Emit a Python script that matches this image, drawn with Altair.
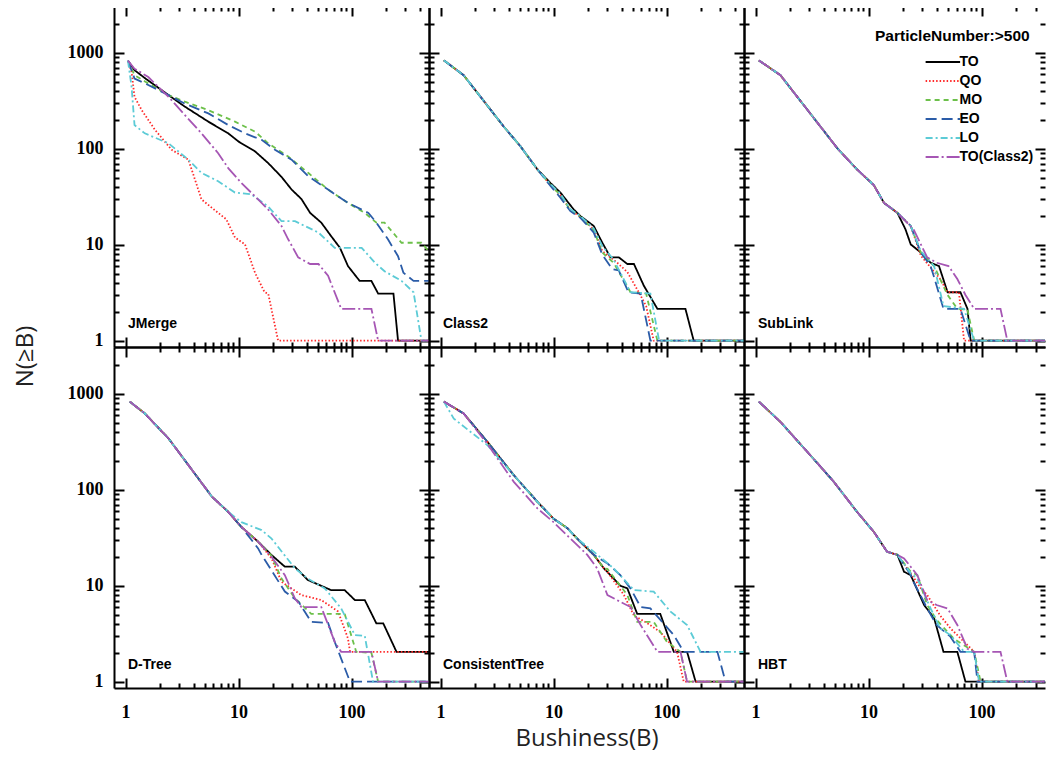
import altair as alt
import pandas as pd

PANELS = ["JMerge", "Class2", "SubLink", "D-Tree", "ConsistentTree", "HBT"]
SERIES = ["TO", "QO", "MO", "EO", "LO", "TO(Class2)"]
COLORS = ["#000000", "#ff2a2a", "#6cc04a", "#2b5ca8", "#5ccbd6", "#a656b4"]
DASHES = [[1, 0], [1.5, 2], [5, 4], [11, 5], [7, 3, 2, 3], [13, 3, 2, 3]]

X_TICKS = [1, 2, 3, 4, 5, 6, 7, 8, 9, 10, 20, 30, 40, 50, 60, 70, 80, 90, 100, 200, 300, 400]
Y_TICKS = [1, 2, 3, 4, 5, 6, 7, 8, 9, 10, 20, 30, 40, 50, 60, 70, 80, 90,
           100, 200, 300, 400, 500, 600, 700, 800, 900, 1000, 2000]

# ---------------- JMerge ----------------
jm_TO_B = [1.05, 1.2, 1.5, 2.4, 3.35, 5.4, 8.1, 10, 14, 18.3, 24, 29.5, 36, 43, 54, 66, 79, 93, 118, 150, 172, 235, 258, 485]
jm_TO_N = [830, 660, 540, 363, 275, 192, 145, 119, 94, 71, 51, 37.6, 30, 21.5, 17, 12.3, 9.3, 6, 4.2, 4.2, 3.1, 3.1, 1, 1]
jm_QO_B = [1.05, 1.13, 1.2, 1.39, 1.82, 2.55, 3.6, 4.7, 6.6, 7.8, 9.3, 11.4, 14, 17, 18.3, 22.4, 485]
jm_QO_N = [830, 635, 348, 253, 158, 98, 77, 29.7, 21.5, 18.4, 11.9, 10.1, 5.1, 3.2, 3.1, 1, 1]
jm_MO_B = [1.05, 1.2, 1.5, 2.4, 3.35, 5.4, 9.3, 14, 18.3, 27.5, 41.5, 62, 93, 131, 166, 196, 277, 416, 485]
jm_MO_N = [830, 585, 500, 363, 310, 253, 192, 151, 114, 83, 56, 37.6, 27.3, 21.5, 17, 17, 10.5, 10.5, 8.5]
jm_EO_B = [1.05, 1.2, 1.5, 2.4, 3.35, 5.4, 8.1, 11.4, 16, 21, 29.5, 41.5, 62, 93, 141, 166, 210, 258, 288, 354, 485]
jm_EO_N = [830, 540, 478, 363, 296, 234, 177, 145, 124, 98, 77, 51.6, 37.6, 27.3, 21.5, 17, 11.4, 7.6, 5.1, 4.2, 4.2]
jm_LO_B = [1.05, 1.13, 1.2, 1.48, 2.4, 3.6, 4.7, 6.6, 9.3, 13, 18.3, 24, 31.6, 51, 71, 123, 161, 196, 277, 354, 416, 485]
jm_LO_N = [830, 445, 177, 145, 114, 77, 56, 46, 35, 33.5, 25, 17.6, 17.6, 13.4, 9.3, 9.3, 6.5, 5.3, 4.2, 3.2, 1, 1]
jm_TC_B = [1.05, 1.2, 1.59, 2.4, 3.35, 4.7, 6.6, 8.1, 10.6, 14.9, 18.3, 24, 27.5, 33.7, 43, 51, 62, 81, 150, 172, 485]
jm_TC_N = [830, 684, 560, 348, 225, 145, 90, 63, 44, 29.7, 23.3, 15.7, 11.4, 7.4, 6.3, 6.3, 4.75, 2.15, 2.15, 1, 1]

# ---------------- Class2 ----------------
c2_common_B = [1.07, 1.6, 2.26, 3.63, 5.1, 7.2]
c2_common_N = [835, 585, 348, 170, 106, 61]
c2_TO_B = c2_common_B + [9.4, 11.5, 15.1, 17.3, 22.7, 27, 31.9, 37.8, 45, 51.5, 63, 83, 147, 174, 485]
c2_TO_N = c2_common_N + [44, 35, 23.3, 19.9, 15.7, 10.5, 7.4, 7.4, 6.3, 6.3, 3.74, 2.15, 2.15, 1, 1]
c2_QO_B = c2_common_B + [9.4, 11.5, 14.1, 17.3, 22.7, 27, 36.6, 45, 59, 66, 77, 485]
c2_QO_N = c2_common_N + [42, 33, 23, 19.5, 14.5, 8.6, 6.5, 5.2, 2.95, 2.3, 1, 1]
c2_MO_B = c2_common_B + [9.4, 11.5, 14.1, 17.3, 22.7, 27, 34, 48, 66, 83, 485]
c2_MO_N = c2_common_N + [42, 33, 23, 19.5, 14.2, 8.3, 6.5, 3.2, 3.1, 1, 1]
c2_EO_B = c2_common_B + [9.4, 11.5, 14.1, 17.3, 22.7, 27, 33, 37.8, 46, 59, 72, 485]
c2_EO_N = c2_common_N + [41, 31, 22.4, 19.1, 13.4, 7.9, 5.6, 5.4, 3.2, 3.1, 1, 1]
c2_LO_B = c2_common_B + [9.4, 11.5, 14.1, 17.3, 22.7, 27, 34, 48, 72, 86, 485]
c2_LO_N = c2_common_N + [43, 34, 23.5, 20, 14.8, 9.7, 7, 3.2, 3.1, 1, 1]

# ---------------- SubLink ----------------
sl_common_B = [1.07, 1.66, 2.34, 3.76, 5.3, 7.9, 11.1, 13.7, 18]
sl_common_N = [835, 585, 348, 170, 101, 61, 42, 27.3, 21.5]
sl_TO_B = sl_common_B + [21.2, 23.6, 29, 35.4, 42, 50, 65, 75, 80, 485]
sl_TO_N = sl_common_N + [14.5, 10.1, 8.3, 6.5, 6, 3.2, 3.2, 2.15, 1, 1]
sl_QO_B = sl_common_B + [23.6, 29, 43, 50, 63, 70, 485]
sl_QO_N = sl_common_N + [15.7, 7.7, 4.4, 3.2, 3.2, 1, 1]
sl_MO_B = sl_common_B + [23.6, 29, 38, 50, 61, 75, 86, 485]
sl_MO_N = sl_common_N + [15.7, 8.3, 6, 3, 2.15, 2.1, 1, 1]
sl_EO_B = sl_common_B + [23.6, 29, 35.4, 38, 46, 65, 80, 485]
sl_EO_N = sl_common_N + [15.7, 8.3, 6, 4.6, 2.15, 2.15, 1, 1]
sl_LO_B = sl_common_B + [23.6, 29, 38, 46, 70, 86, 485]
sl_LO_N = sl_common_N + [15.7, 8.6, 6, 2.3, 2.15, 1, 1]
sl_TC_B = sl_common_B + [25, 33, 40, 51, 61, 72, 86, 147, 169, 485]
sl_TC_N = sl_common_N + [14.5, 7.4, 6.5, 6, 4.4, 3, 2.15, 2.15, 1, 1]

# ---------------- D-Tree ----------------
dt_common_B = [1.09, 1.48, 2.4, 3.6, 5.8, 8.1]
dt_common_N = [830, 625, 343, 181, 85, 59]
dt_TO_B = dt_common_B + [10.6, 14.9, 19.6, 25.7, 31.5, 41, 66, 87, 107, 131, 166, 191, 250, 485]
dt_TO_N = dt_common_N + [41, 28.8, 20.9, 15.8, 15.8, 11.5, 9, 9, 7.1, 7.1, 4.05, 4.05, 2.05, 2.05]
dt_QO_B = dt_common_B + [10.6, 14.9, 19.6, 24, 36, 54, 76, 93, 97, 485]
dt_QO_N = dt_common_N + [41, 28.8, 19.3, 11, 8, 7.1, 5.4, 2.83, 2.05, 2.05]
dt_MO_B = dt_common_B + [10.6, 14.9, 19.6, 24, 31.5, 44, 87, 110, 150, 172, 485]
dt_MO_N = dt_common_N + [41, 28.8, 20.5, 11.9, 7.4, 5.1, 5.1, 2.05, 2, 1, 1]
dt_EO_B = dt_common_B + [10.6, 14.9, 16, 25.7, 34, 44, 62, 71, 97, 485]
dt_EO_N = dt_common_N + [41, 24.5, 21, 8.7, 6.8, 4.2, 4.1, 2.6, 1, 1]
dt_LO_B = dt_common_B + [10.6, 16, 19.6, 31.5, 41, 58, 81, 107, 131, 155, 485]
dt_LO_N = dt_common_N + [46, 38, 31, 15.2, 11.9, 9.4, 5.8, 3.06, 3, 1, 1]
dt_TC_B = dt_common_B + [10.6, 14.9, 19.6, 25.7, 31.5, 36, 54, 71, 81, 150, 172, 485]
dt_TC_N = dt_common_N + [41, 28.8, 20, 12.9, 7.4, 6, 6, 2.6, 2.05, 2.05, 1, 1]

# ---------------- ConsistentTree ----------------
ct_common_B = [1.07, 1.6, 2.6, 4.45, 7.2, 10, 13.2, 16.2, 22.7]
ct_common_N = [830, 625, 316, 142, 75, 50, 40, 31, 21]
ct_TO_B = ct_common_B + [27.9, 34, 39, 45, 55, 88, 116, 152, 181, 485]
ct_TO_N = ct_common_N + [15.2, 11.9, 10, 9.4, 5.1, 5.1, 2.05, 2.05, 1, 1]
ct_QO_B = ct_common_B + [27.9, 30, 42, 51.5, 67, 88, 124, 142, 485]
ct_QO_N = ct_common_N + [15.2, 14, 8, 4.9, 4.1, 3.3, 2.05, 1, 1]
ct_MO_B = ct_common_B + [27.9, 30, 45, 55, 77, 101, 133, 152, 485]
ct_MO_N = ct_common_N + [15.2, 15, 8, 4.2, 4.2, 2.6, 2.05, 1, 1]
ct_EO_B = ct_common_B + [30, 39, 48, 59, 72, 116, 142, 282, 333, 485]
ct_EO_N = ct_common_N + [17.1, 12.9, 9.4, 6, 5.8, 3.06, 2.05, 2.05, 1, 1]
ct_LO_B = [1.07, 1.31, 2.6, 4.45, 7.2, 10, 13.2, 16.2, 22.7, 34, 51.5, 77, 108, 152, 200, 485]
ct_LO_N = [830, 552, 292, 142, 75, 50, 40, 31, 22.6, 15.2, 9, 8.7, 5.4, 3.9, 2.05, 2.05]
ct_TC_B = [1.07, 1.6, 2.6, 4.45, 7.2, 10, 14.1, 19.9, 24.3, 30, 39, 48, 59, 83, 133, 152, 485]
ct_TC_N = [830, 625, 300, 121, 64, 46, 31, 21, 15.2, 8, 6.8, 6, 3.9, 2.05, 2.05, 1, 1]

# ---------------- HBT ----------------
hb_common_B = [1.07, 1.66, 2.86, 4.93, 7.9, 11.1, 14.6, 18]
hb_common_N = [830, 510, 250, 121, 59, 36.6, 22.6, 21]
hb_TO_B = hb_common_B + [20.6, 23.6, 31, 38, 46, 61, 72, 485]
hb_TO_N = hb_common_N + [14, 12.9, 6.3, 4.6, 2.05, 2.05, 1, 1]
hb_QO_B = hb_common_B + [23.6, 29, 33, 43, 53, 86, 95, 485]
hb_QO_N = hb_common_N + [13.5, 9.4, 8, 4.9, 3.6, 2.05, 1, 1]
hb_MO_B = hb_common_B + [23.6, 27, 33, 40, 57, 86, 98, 485]
hb_MO_N = hb_common_N + [14, 12.9, 6.3, 4.4, 2.8, 2.05, 1, 1]
hb_EO_B = hb_common_B + [23.6, 25, 33, 40, 53, 65, 86, 92, 485]
hb_EO_N = hb_common_N + [13, 11, 5.8, 3.9, 2.95, 2.05, 2.05, 1, 1]
hb_LO_B = hb_common_B + [23.6, 27, 35.4, 43, 53, 70, 86, 95, 485]
hb_LO_N = hb_common_N + [13.5, 11.9, 5.8, 3.6, 3.06, 2.05, 2.05, 1, 1]
hb_TC_B = hb_common_B + [20.6, 27, 33, 40, 50, 61, 75, 86, 147, 169, 485]
hb_TC_N = hb_common_N + [19.3, 12.9, 7.1, 6.3, 5.8, 3.9, 2.2, 2.05, 2.05, 1, 1]

CURVES = [
    ("JMerge", "TO", jm_TO_B, jm_TO_N), ("JMerge", "QO", jm_QO_B, jm_QO_N),
    ("JMerge", "MO", jm_MO_B, jm_MO_N), ("JMerge", "EO", jm_EO_B, jm_EO_N),
    ("JMerge", "LO", jm_LO_B, jm_LO_N), ("JMerge", "TO(Class2)", jm_TC_B, jm_TC_N),
    ("Class2", "TO", c2_TO_B, c2_TO_N), ("Class2", "QO", c2_QO_B, c2_QO_N),
    ("Class2", "MO", c2_MO_B, c2_MO_N), ("Class2", "EO", c2_EO_B, c2_EO_N),
    ("Class2", "LO", c2_LO_B, c2_LO_N),
    ("SubLink", "TO", sl_TO_B, sl_TO_N), ("SubLink", "QO", sl_QO_B, sl_QO_N),
    ("SubLink", "MO", sl_MO_B, sl_MO_N), ("SubLink", "EO", sl_EO_B, sl_EO_N),
    ("SubLink", "LO", sl_LO_B, sl_LO_N), ("SubLink", "TO(Class2)", sl_TC_B, sl_TC_N),
    ("D-Tree", "TO", dt_TO_B, dt_TO_N), ("D-Tree", "QO", dt_QO_B, dt_QO_N),
    ("D-Tree", "MO", dt_MO_B, dt_MO_N), ("D-Tree", "EO", dt_EO_B, dt_EO_N),
    ("D-Tree", "LO", dt_LO_B, dt_LO_N), ("D-Tree", "TO(Class2)", dt_TC_B, dt_TC_N),
    ("ConsistentTree", "TO", ct_TO_B, ct_TO_N), ("ConsistentTree", "QO", ct_QO_B, ct_QO_N),
    ("ConsistentTree", "MO", ct_MO_B, ct_MO_N), ("ConsistentTree", "EO", ct_EO_B, ct_EO_N),
    ("ConsistentTree", "LO", ct_LO_B, ct_LO_N), ("ConsistentTree", "TO(Class2)", ct_TC_B, ct_TC_N),
    ("HBT", "TO", hb_TO_B, hb_TO_N), ("HBT", "QO", hb_QO_B, hb_QO_N),
    ("HBT", "MO", hb_MO_B, hb_MO_N), ("HBT", "EO", hb_EO_B, hb_EO_N),
    ("HBT", "LO", hb_LO_B, hb_LO_N), ("HBT", "TO(Class2)", hb_TC_B, hb_TC_N),
]

rows = []
for p, s, bs, ns in CURVES:
    for k, (b, n) in enumerate(zip(bs, ns)):
        rows.append({"panel": p, "series": s, "B": b, "N": n, "idx": k})
df = pd.DataFrame(rows)

DEC = "abs(log(datum.value)/LN10 - round(log(datum.value)/LN10)) < 0.001"
TICK = {"expr": DEC + " ? -10 : -5"}
LABEL_EXPR = DEC + " ? datum.value : ''"

LEG = alt.Legend(
    title="ParticleNumber:>500", orient="none", legendX=761, legendY=22.5,
    symbolType="M7.27,0H13.02", symbolSize=144, symbolStrokeWidth=2,
    labelFont="Liberation Sans", labelFontWeight="bold", labelFontSize=14,
    labelOffset=70.5, labelColor="black",
    titleFont="Liberation Sans", titleFontWeight="bold", titleFontSize=15.5,
    titleColor="black", titlePadding=11, rowPadding=5, padding=0,
)


def make_panel(i, name):
    row, col = divmod(i, 3)
    w = 301 if col == 2 else 315
    xmax = 364 if col == 2 else 485
    sub = df[df.panel == name]
    xs = alt.Scale(type="log", domain=[0.79, xmax])
    ys = alt.Scale(type="log", domain=[0.86, 3080])

    xkw = dict(orient="bottom", values=X_TICKS, tickSize=TICK, grid=False,
               domainWidth=2, labels=(row == 1), labelExpr=LABEL_EXPR,
               labelPadding=25.4, labelFlush=False, labelOverlap=False, title=None)
    if i == 4:
        xkw.update(title="Bushiness(B)", titlePadding=0)
    ykw = dict(orient="left", values=Y_TICKS, tickSize=TICK, grid=False,
               domainWidth=2, labels=(col == 0), labelExpr=LABEL_EXPR,
               labelPadding=21, labelFlush=False, labelOverlap=False, title=None)
    if i == 0:
        ykw.update(title="N(\u2265B)", titleY=350, titlePadding=30)

    lines = alt.Chart(sub).mark_line(strokeWidth=1.8, clip=True).encode(
        x=alt.X("B:Q", scale=xs, axis=alt.Axis(**xkw)),
        y=alt.Y("N:Q", scale=ys, axis=alt.Axis(**ykw)),
        color=alt.Color("series:N", scale=alt.Scale(domain=SERIES, range=COLORS), legend=LEG),
        strokeDash=alt.StrokeDash("series:N", scale=alt.Scale(domain=SERIES, range=DASHES), legend=LEG),
        order="idx:Q",
    )
    frame = alt.Chart(sub).mark_point(opacity=0, clip=True).encode(
        x=alt.X("B:Q", scale=xs, axis=alt.Axis(orient="top", values=X_TICKS, tickSize=TICK,
                                                grid=False, domainWidth=2, labels=False, title=None)),
        y=alt.Y("N:Q", scale=ys, axis=alt.Axis(orient="right", values=Y_TICKS, tickSize=TICK,
                                                grid=False, domain=(col != 2), domainWidth=2,
                                                labels=False, title=None)),
    )
    label = alt.Chart(pd.DataFrame({"name": [name]})).mark_text(
        align="left", baseline="alphabetic", font="Liberation Sans",
        fontWeight="bold", fontSize=14, color="black",
    ).encode(x=alt.value(14), y=alt.value(322), text="name:N")

    return alt.layer(lines, frame, label).resolve_axis(
        x="independent", y="independent").properties(width=w, height=341)


panels = [make_panel(i, n) for i, n in enumerate(PANELS)]

chart = alt.concat(*panels, columns=3, spacing=0, bounds="flush").resolve_scale(
    x="independent", y="independent"
).properties(
    padding={"left": 4, "top": -4, "right": 0, "bottom": 0}, background="white"
).configure_view(stroke="transparent").configure_axis(
    labelFont="Liberation Serif", labelFontWeight="bold", labelFontSize=18, labelColor="black",
    tickColor="black", tickWidth=2, domainColor="black",
    titleFont="Open Sans", titleFontSize=24, titleFontWeight="normal", titleColor="#222222",
)

chart.save("out.html", embed_options={"renderer": "svg", "actions": False})
